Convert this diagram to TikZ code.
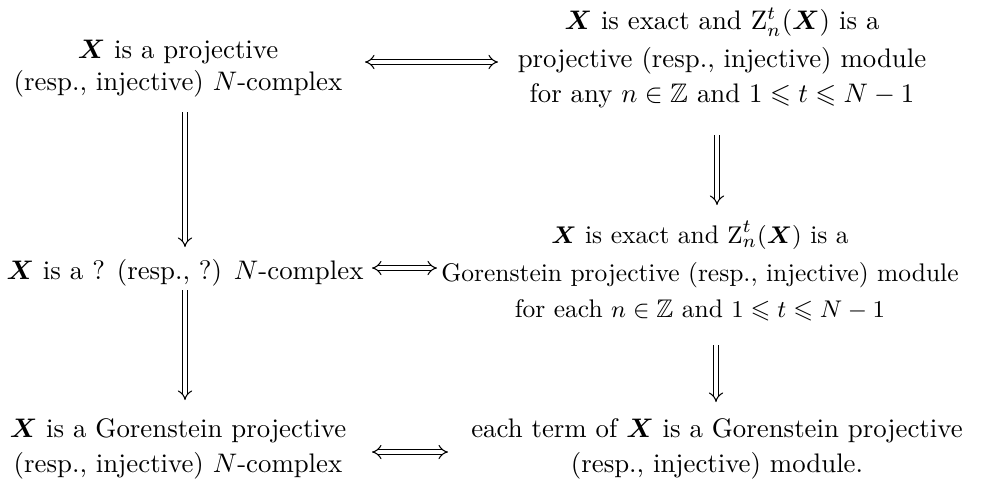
\documentclass[tikz,border=0pt]{standalone}
\usepackage{amsmath,amssymb}
\usetikzlibrary{arrows.meta}
\tikzset{
  txt/.style={align=center, inner sep=0pt, font=\normalsize},
  txtw/.style={align=center, inner sep=0pt, font=\fontsize{10}{13}\selectfont},
  txts/.style={align=center, inner sep=0pt, font=\fontsize{9.5}{13.2}\selectfont},
  dimp/.style={double, double distance=1.45pt, line width=0.4pt, -Implies},
  dimpb/.style={double, double distance=1.45pt, line width=0.4pt, Implies-Implies}
}
\newcommand{\bX}{\boldsymbol{X}}
\begin{document}
\begin{tikzpicture}[x=0.373pt,y=-0.373pt]
\useasboundingbox (0,0) rectangle (990,489);
\node[txt] (TL) at (178,69) {$\bX$ is a projective\\(resp., injective) $N$-complex};
\node[txtw] (TR) at (722,58) {$\bX$ is exact and $\mathrm{Z}^t_n(\bX)$ is a\\[1.2pt]projective (resp., injective) module\\for any $n\in\mathbb{Z}$ and $1\leqslant t\leqslant N-1$};
\node[txt] (ML) at (185,273) {$\bX$ is a ? (resp., ?) $N$-complex};
\node[txts] (MR) at (700,271) {$\bX$ is exact and $\mathrm{Z}^t_n(\bX)$ is a\\[1.2pt]Gorenstein projective (resp., injective) module\\for each $n\in\mathbb{Z}$ and $1\leqslant t\leqslant N-1$};
\node[txtw] (BL) at (178,449) {$\bX$ is a Gorenstein projective\\(resp., injective) $N$-complex};
\node[txtw] (BR) at (717,449) {each term of $\bX$ is a Gorenstein projective\\(resp., injective) module.};
\coordinate (h1a) at (365,62); \coordinate (h1b) at (498,62);
\coordinate (h2a) at (372,268); \coordinate (h2b) at (437,268);
\coordinate (h3a) at (372,452); \coordinate (h3b) at (448,452);
\coordinate (v1a) at (185,112); \coordinate (v1b) at (185,247);
\coordinate (v2a) at (185,290); \coordinate (v2b) at (185,400);
\coordinate (v3a) at (717,135); \coordinate (v3b) at (717,205);
\coordinate (v4a) at (716,345); \coordinate (v4b) at (716,402);
\draw[dimpb] (h1a) -- (h1b);
\draw[dimpb] (h2a) -- (h2b);
\draw[dimpb] (h3a) -- (h3b);
\draw[dimp] (v1a) -- (v1b);
\draw[dimp] (v2a) -- (v2b);
\draw[dimp] (v3a) -- (v3b);
\draw[dimp] (v4a) -- (v4b);
\end{tikzpicture}
\end{document}
